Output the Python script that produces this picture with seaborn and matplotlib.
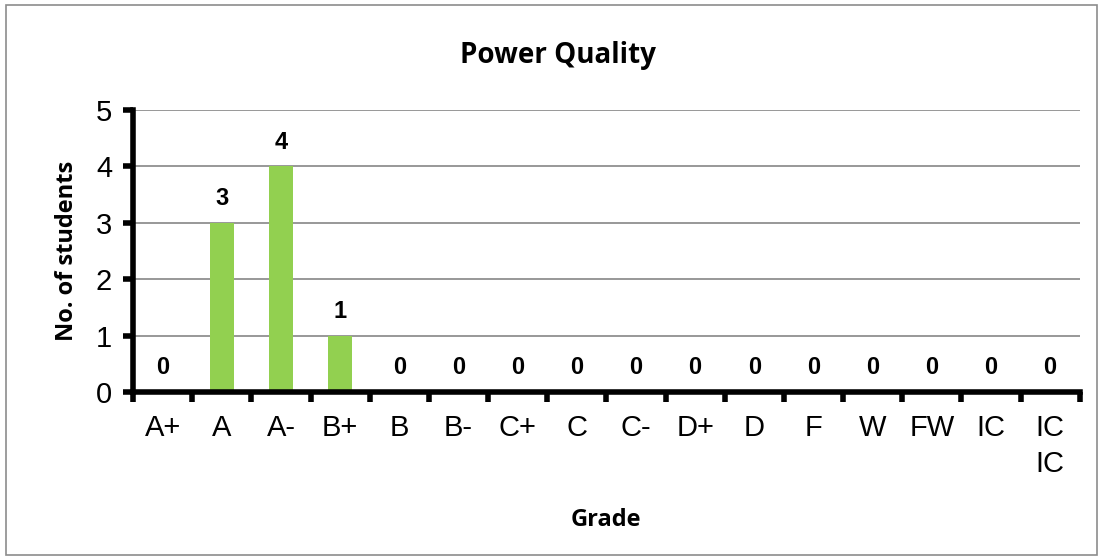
import numpy as np
import pandas as pd
import matplotlib
matplotlib.use("Agg")
import matplotlib.pyplot as plt
from matplotlib.patches import Rectangle
import seaborn as sns

grades = ["A+", "A", "A-", "B+", "B", "B-", "C+", "C", "C-", "D+", "D", "F", "W", "FW", "IC", "IC\nIC"]
students = [0, 3, 4, 1, 0, 0, 0, 0, 0, 0, 0, 0, 0, 0, 0, 0]

df = pd.DataFrame({"grade": grades, "students": students})

sns.set_theme(style="white")
plt.rcParams["font.family"] = ["Liberation Sans", "DejaVu Sans"]
plt.rcParams["text.color"] = "black"
plt.rcParams["xtick.color"] = "black"
plt.rcParams["ytick.color"] = "black"
plt.rcParams["axes.labelcolor"] = "black"

fig = plt.figure(figsize=(11.04, 5.6), dpi=100)
ax = fig.add_axes([0.1205, 0.30, 0.8575, 0.5036])

sns.barplot(data=df, x="grade", y="students", color="#92D050", width=0.4,
            saturation=1, linewidth=0, ax=ax)

ax.set_ylim(0, 5)
ax.set_xlim(-0.5, len(grades) - 0.5)
ax.set_yticks(range(0, 6))
ax.yaxis.grid(True, color="#868686", linewidth=1.2)
ax.set_axisbelow(True)

for side in ["top", "right"]:
    ax.spines[side].set_visible(False)
for side in ["left", "bottom"]:
    ax.spines[side].set_color("black")
    ax.spines[side].set_linewidth(4)

ax.tick_params(axis="y", which="major", direction="out", length=7, width=4,
               color="black", labelsize=21, pad=8, left=True)
ax.set_xticks(np.arange(-0.5, len(grades), 1.0), minor=True)
ax.tick_params(axis="x", which="minor", direction="out", length=7, width=4,
               color="black", bottom=True)
ax.tick_params(axis="x", which="major", length=0, labelsize=21, pad=16)
for lbl in ax.get_xticklabels():
    lbl.set_verticalalignment("top")
    lbl.set_linespacing(1.35)

ax.bar_label(ax.containers[0], labels=[str(v) for v in students],
             padding=9, fontsize=17, fontweight="bold")

ax.set_xlabel("Grade", fontsize=17, fontweight="bold", family="Open Sans", labelpad=22)
ax.set_ylabel("No. of students", fontsize=17, fontweight="bold", family="Open Sans", labelpad=12)
fig.text(0.5 + 0.005, 0.90, "Power Quality", ha="center", va="center",
         fontsize=20, fontweight="bold", family="Open Sans")

fig.patches.append(Rectangle((6 / 1104, 5 / 560), 1091 / 1104, 550 / 560,
                             transform=fig.transFigure, fill=False,
                             edgecolor="#8c8c8c", linewidth=1.2))

fig.savefig("out.png", dpi=100)
